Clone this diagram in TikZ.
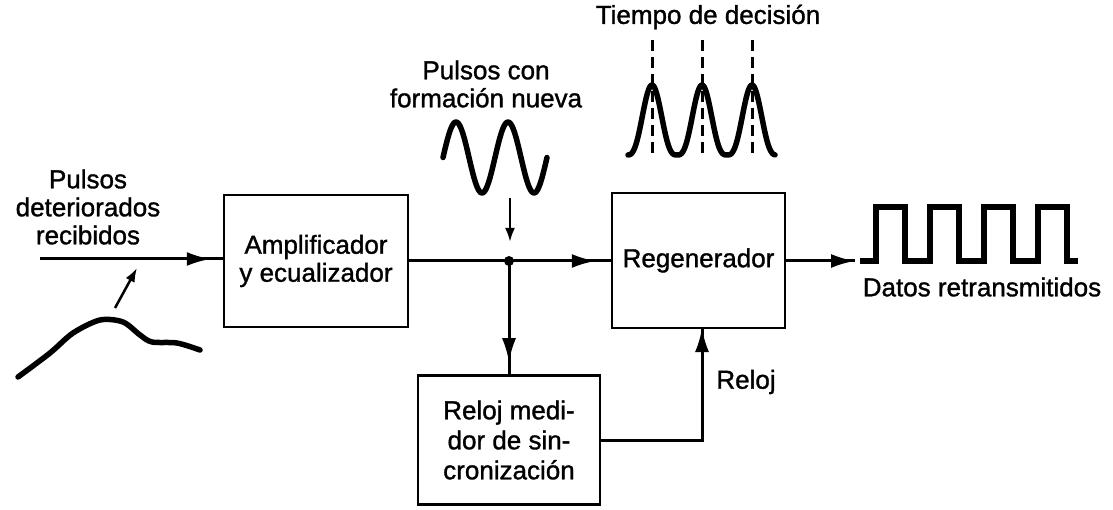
\documentclass[tikz,border=0pt]{standalone}
\usepackage{fontspec}
\setmainfont{Liberation Sans}[BoldFont=Liberation Sans, BoldFeatures={FakeBold=1.2}]
\usetikzlibrary{arrows.meta}

\tikzset{
  txt/.style={font=\fontsize{26}{28}\selectfont\bfseries, align=center, inner sep=0},
  block/.style={txt, draw, line width=2.5pt},
  flow/.style={line width=3pt, postaction={draw, -{Latex[length=24pt,width=14pt]}, shorten >=#1}},
  flow/.default=12pt,
  pointer/.style={line width=2.5pt, -{Latex[length=14pt,width=10pt]}},
  wave/.style={line width=5.5pt, line cap=round, line join=round},
  decision/.style={line width=3pt, dash pattern=on 11pt off 6pt}
}

\begin{document}
\begin{tikzpicture}[x=1pt, y=-1pt]
  \useasboundingbox (0,0) rectangle (1113,510);
  % blocks
  \node[block, minimum width=184pt, minimum height=132pt] (amp) at (316,261) {Amplificador\\y ecualizador};
  \node[block, minimum width=173pt, minimum height=135pt] (regen) at (698.5,260.5) {Regenerador};
  \node[block, minimum width=182pt, minimum height=129pt, font=\fontsize{26}{30}\selectfont\bfseries] (clk) at (509,440) {Reloj medi-\\dor de sin-\\cronización};
  % labels
  \node[txt] (rxlabel) at (88,207) {Pulsos\\deteriorados\\recibidos};
  \node[txt] (newlabel) at (486,84) {Pulsos con\\formación nueva};
  \node[txt] (declabel) at (708,17) {Tiempo de decisión};
  \node[txt] (outlabel) at (982,287) {Datos retransmitidos};
  \node[txt] (clklabel) at (746,382) {Reloj};
  % signal path
  \coordinate (in) at (40,259);
  \coordinate (jn) at (509,261);
  \coordinate (rin) at (702,328);
  \coordinate (out) at (855,261);
  \draw[flow] (in) -- (amp.west |- in);
  \draw[line width=3pt] (amp.east) -- (jn);
  \draw[flow=15pt] (jn) -- (regen.west |- jn);
  \fill (jn) circle (5);
  \draw[flow] (jn) -- (clk.north);
  \draw[flow=0pt] (clk.east) -| (rin);
  \draw[flow=0pt] (regen.east |- out) -- (out);
  % A: received pulses
  \draw[wave] plot[smooth] coordinates {(18,377) (50,353) (73,333) (100,320) (123,322) (140,335) (152,342) (177,343) (200,350)};
  \coordinate (rxtail) at (115,308);
  \coordinate (rxtip) at (137,268);
  \draw[pointer] (rxtail) -- (rxtip);
  % B: reshaped pulses
  \draw[wave] plot[domain=443:547, samples=90, smooth] (\x,{157.5-35.5*sin((\x-443)/52*360)});
  \coordinate (newtail) at (510,198);
  \coordinate (newtip) at (510,242);
  \draw[pointer] (newtail) -- (newtip);
  % C: decision instants
  \draw[wave] plot[domain=628:775, samples=150, smooth] (\x,{155-70*pow(abs((1+cos((\x-652)*7.2))/2),1.5)});
  \foreach \t in {652,702,752}
    \draw[decision] (\t,40) -- (\t,157);
  % D: retransmitted data
  \draw[wave, line cap=butt, line join=miter] (860,261)
    \foreach \k in {0,...,3} { -- (876+54*\k,261) -- (876+54*\k,207) -- (905+54*\k,207) -- (905+54*\k,261) }
    -- (1078,261);
\end{tikzpicture}
\end{document}
